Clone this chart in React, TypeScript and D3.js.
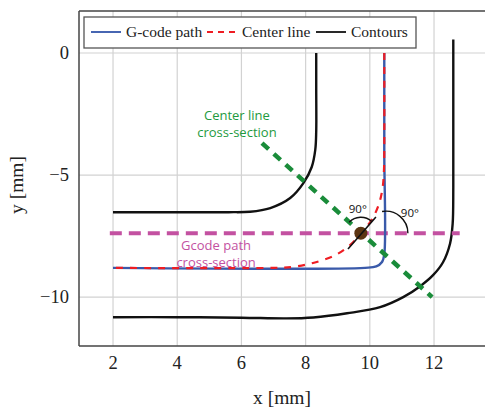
import React from "react";
import * as d3 from "d3";

// axis ticks
const xTicks = [2, 4, 6, 8, 10, 12];
const yTicks = [-10, -5, 0];

// contours (black)
const innerContour: [number, number][] = [
  [2, -6.52], [5.6, -6.52], [6.27, -6.5], [6.9, -6.35], [7.52, -5.94], [7.93, -5.33],
  [8.19, -4.67], [8.3, -3.97], [8.33, -3.2], [8.33, -1.5], [8.33, 0],
];
const outerContour: [number, number][] = [
  [2, -10.82], [4, -10.82], [6, -10.84], [7.4, -10.87], [8.24, -10.83], [9.29, -10.66],
  [10.32, -10.41], [11.04, -10.0], [11.57, -9.55], [11.97, -9.1], [12.28, -8.57],
  [12.5, -7.8], [12.58, -7.0], [12.6, -5.5], [12.6, -3], [12.6, 0.55],
];
// G-code path (blue)
const gcodePath: [number, number][] = [
  [2, -8.8], [9.85, -8.8], [10.2, -8.74], [10.38, -8.56], [10.45, -8.25], [10.45, -4], [10.45, 0],
];
// center line (red dashed)
const centerLine: [number, number][] = [
  [10.45, 0], [10.45, -4], [10.44, -4.8], [10.4, -5.5], [10.28, -6.2], [10.05, -6.85],
  [9.72, -7.38], [9.4, -7.85], [8.92, -8.28], [8.23, -8.6], [7.6, -8.76], [7.0, -8.8], [2, -8.8],
];
// cross-sections
const gcodeSection: [number, number][] = [[1.9, -7.38], [12.8, -7.38]];
const centerSection: [number, number][] = [[6.64, -3.69], [11.94, -10.0]];
const tangent: [number, number][] = [[9.32, -8.03], [10.19, -6.72]];
const crossPoint: [number, number] = [9.72, -7.38];
const cornerPoint: [number, number] = [10.5, -7.38];

const legendItems = [
  { name: "G-code path", color: "#3355aa", dash: "none" },
  { name: "Center line", color: "#ee1d23", dash: "6,5" },
  { name: "Contours", color: "#111111", dash: "none" },
];

export default function App() {
  const W = 485, H = 409;
  const x = d3.scaleLinear().domain([0.94, 13.7]).range([79, 488.6]);
  const y = d3.scaleLinear().domain([-12, 1.72]).range([346, 11]);
  const smooth = d3.line<[number, number]>().x(d => x(d[0])).y(d => y(d[1])).curve(d3.curveCatmullRom.alpha(0.5));
  const straight = d3.line<[number, number]>().x(d => x(d[0])).y(d => y(d[1]));
  const deg = Math.PI / 180;
  const arc = d3.arc();
  const serif = "'Liberation Serif', serif";
  const sans = "'Open Sans', sans-serif";

  return (
    <svg width={W} height={H} style={{ position: "absolute", left: 0, top: 0 }}>
      <defs>
        <clipPath id="plot">
          <rect x={79} y={11} width={420} height={335} />
        </clipPath>
      </defs>
      <rect width={W} height={H} fill="#fff" />
      {/* grid */}
      {xTicks.map(t => (
        <line key={"gx" + t} x1={x(t)} x2={x(t)} y1={11} y2={346} stroke="#d2d2d2" strokeWidth={1.2} />
      ))}
      {yTicks.map(t => (
        <line key={"gy" + t} x1={79} x2={W} y1={y(t)} y2={y(t)} stroke="#d2d2d2" strokeWidth={1.2} />
      ))}
      <g clipPath="url(#plot)" fill="none" strokeLinecap="butt">
        <path d={smooth(innerContour)!} stroke="#111" strokeWidth={2.4} />
        <path d={smooth(outerContour)!} stroke="#111" strokeWidth={2.4} />
        <path d={straight(gcodeSection)!} stroke="#c351a1" strokeWidth={4} strokeDasharray="12,7" />
        <path d={smooth(gcodePath)!} stroke="#3a5aaa" strokeWidth={2.4} />
        <path d={smooth(centerLine)!} stroke="#ee1d23" strokeWidth={2.2} strokeDasharray="7,7" />
        <path d={straight(centerSection)!} stroke="#1a8c3a" strokeWidth={4.5} strokeDasharray="9,7" />
        <circle cx={x(crossPoint[0])} cy={y(crossPoint[1])} r={6.5} fill="#5b3512" />
        <path d={straight(tangent)!} stroke="#111" strokeWidth={1.6} />
        <path
          transform={`translate(${x(crossPoint[0])},${y(crossPoint[1])})`}
          d={arc({ innerRadius: 16, outerRadius: 16, startAngle: -47 * deg, endAngle: 43 * deg })!}
          stroke="#111" strokeWidth={1.4}
        />
        <path
          transform={`translate(${x(cornerPoint[0])},${y(cornerPoint[1])})`}
          d={arc({ innerRadius: 22, outerRadius: 22, startAngle: -10 * deg, endAngle: 90 * deg })!}
          stroke="#111" strokeWidth={1.4}
        />
      </g>
      <g fontFamily={sans} fontSize={11.5} fill="#111" textAnchor="middle">
        <text x={x(crossPoint[0]) - 3} y={y(crossPoint[1]) - 20}>90°</text>
        <text x={x(cornerPoint[0]) + 24} y={y(cornerPoint[1]) - 16}>90°</text>
      </g>
      <g fontFamily={sans} fontSize={13} fill="#1e9a40" textAnchor="middle">
        <text x={x(5.86)} y={y(-2.54) + 5}>Center line</text>
        <text x={x(5.86)} y={y(-2.54) + 22}>cross-section</text>
      </g>
      <g fontFamily={sans} fontSize={13} fill="#c351a1" textAnchor="middle">
        <text x={x(5.21)} y={y(-7.85) + 5}>Gcode path</text>
        <text x={x(5.21)} y={y(-7.85) + 22}>cross-section</text>
      </g>
      {/* frame */}
      <line x1={79} x2={W} y1={11} y2={11} stroke="#444" strokeWidth={1.5} />
      <line x1={79} x2={W} y1={346} y2={346} stroke="#444" strokeWidth={1.5} />
      <line x1={79} x2={79} y1={11} y2={346} stroke="#444" strokeWidth={1.5} />
      {/* tick labels */}
      <g fontFamily={serif} fontSize={18.5} fill="#222">
        {xTicks.map(t => (
          <text key={"tx" + t} x={x(t)} y={369} textAnchor="middle">{t}</text>
        ))}
        {yTicks.map(t => (
          <text key={"ty" + t} x={69} y={y(t) + 6} textAnchor="end">{t < 0 ? "\u2212" + Math.abs(t) : t}</text>
        ))}
        <text x={282} y={404} textAnchor="middle" fontSize={19.5}>x [mm]</text>
        <text transform="translate(23,185) rotate(-90)" textAnchor="middle" fontSize={19.5}>y [mm]</text>
      </g>
      {/* legend */}
      <g>
        <rect x={84} y={17} width={332} height={31} fill="#fff" stroke="#555" strokeWidth={1.3} />
        {legendItems.map((d, i) => {
          const xs = [91, 207, 316][i];
          return (
            <g key={d.name}>
              <line x1={xs} x2={xs + 30} y1={32} y2={32} stroke={d.color} strokeWidth={1.8} strokeDasharray={d.dash} />
              <text x={xs + 35} y={37} fontFamily={serif} fontSize={15.5} fill="#222">{d.name}</text>
            </g>
          );
        })}
      </g>
    </svg>
  );
}
